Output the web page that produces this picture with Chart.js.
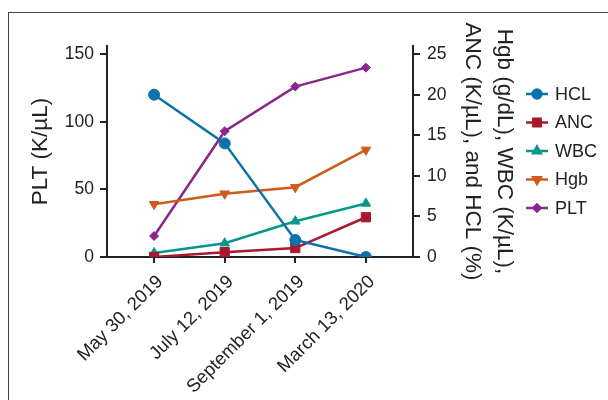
<!DOCTYPE html>
<html>
<head>
<meta charset="utf-8">
<script src="https://cdn.jsdelivr.net/npm/chart.js@4/dist/chart.umd.min.js"></script>
<style>
  body { margin: 0; background: #fff; }
  #wrap { position: relative; width: 608px; height: 400px; overflow: hidden; }
  #frame { position: absolute; left: 8px; top: 12px; width: 700px; height: 500px;
           border-left: 1.5px solid #444; border-top: 1.5px solid #444; }
  #chart { position: absolute; left: 0; top: 0; }
</style>
</head>
<body>
<div id="wrap">
  <div id="frame"></div>
  <canvas id="chart" width="608" height="400"></canvas>
</div>
<script>
// visit dates (x axis)
const dates = ['May 30, 2019', 'July 12, 2019', 'September 1, 2019', 'March 13, 2020'];

// right axis series
const hcl = [20.0, 14.0, 2.1, 0];      // %
const anc = [0, 0.6, 1.1, 4.9];        // K/uL
const wbc = [0.5, 1.7, 4.4, 6.6];      // K/uL
const hgb = [6.5, 7.8, 8.6, 13.2];     // g/dL

// left axis series
const plt = [15.5, 93, 126, 140];      // K/uL

const leftTicks = [0, 50, 100, 150];
const rightTicks = [0, 5, 10, 15, 20, 25];

const ink = '#222';
Chart.defaults.font.family = "'Liberation Sans', Arial, sans-serif";
Chart.defaults.color = ink;

function pts(arr) {
    return arr.map((v, i) => ({ x: i, y: v }));
}

function series(label, data, color, style, radius, axis, rot) {
    return {
        label: label,
        data: pts(data),
        yAxisID: axis,
        borderColor: color,
        backgroundColor: color,
        borderWidth: 2.5,
        pointStyle: style,
        pointRadius: radius,
        pointRotation: rot || 0,
        pointBorderWidth: 1,
        tension: 0
    };
}

// legend drawn as line + marker, like the original
const lineLegend = {
    id: 'lineLegend',
    afterDraw(chart) {
        const ctx = chart.ctx;
        ctx.save();
        chart.data.datasets.forEach((ds, i) => {
            const y = 94 + i * 28.5;
            ctx.strokeStyle = ds.borderColor;
            ctx.lineWidth = 2.5;
            ctx.beginPath();
            ctx.moveTo(526, y);
            ctx.lineTo(548, y);
            ctx.stroke();
            ctx.fillStyle = ds.backgroundColor;
            Chart.helpers.drawPoint(ctx, {
                pointStyle: ds.pointStyle,
                radius: ds.pointRadius * 0.8,
                rotation: ds.pointRotation,
                borderWidth: 1
            }, 537, y);
            ctx.fillStyle = ink;
            ctx.font = "18px 'Liberation Sans', Arial, sans-serif";
            ctx.textAlign = 'left';
            ctx.textBaseline = 'middle';
            ctx.fillText(ds.label, 555, y + 1);
        });
        ctx.restore();
    }
};

const axisLine = { display: true, color: ink, width: 2 };
const tickMarks = { drawOnChartArea: false, drawTicks: true, tickLength: 7, color: ink, lineWidth: 2 };

new Chart(document.getElementById('chart'), {
    type: 'line',
    data: {
        datasets: [
            series('HCL', hcl, '#0b72aa', 'circle', 5.5, 'y2'),
            series('ANC', anc, '#a8182f', 'rect', 6.5, 'y2'),
            series('WBC', wbc, '#05988a', 'triangle', 5.5, 'y2'),
            series('Hgb', hgb, '#cf5b1d', 'triangle', 5.5, 'y2', 180),
            series('PLT', plt, '#8b278b', 'rectRot', 4.5, 'y')
        ]
    },
    options: {
        responsive: false,
        animation: false,
        devicePixelRatio: 1,
        layout: { padding: { left: 0, top: 46, right: 84, bottom: 0 } },
        plugins: {
            legend: { display: false },
            tooltip: { enabled: false }
        },
        scales: {
            x: {
                type: 'linear',
                min: -0.667,
                max: 3.667,
                afterBuildTicks: s => { s.ticks = dates.map((_, i) => ({ value: i })); },
                afterFit: s => { s.height = 143; },
                border: axisLine,
                grid: Object.assign({}, tickMarks, { tickLength: 6 }),
                ticks: {
                    autoSkip: false,
                    minRotation: 45,
                    maxRotation: 45,
                    padding: 8,
                    labelOffset: 6,
                    font: { size: 18.5 },
                    callback: v => dates[v]
                }
            },
            y: {
                position: 'left',
                min: 0,
                max: 156,
                afterBuildTicks: s => { s.ticks = leftTicks.map(v => ({ value: v })); },
                afterFit: s => { s.width = 107; },
                border: axisLine,
                grid: tickMarks,
                ticks: { padding: 6, font: { size: 17.5 } },
                title: {
                    display: true,
                    text: 'PLT (K/\u00b5L)',
                    font: { size: 22.5 },
                    padding: { top: 27, bottom: 0 }
                }
            },
            y2: {
                position: 'right',
                min: 0,
                max: 26,
                afterBuildTicks: s => { s.ticks = rightTicks.map(v => ({ value: v })); },
                afterFit: s => { s.width = 111; },
                border: axisLine,
                grid: tickMarks,
                ticks: { padding: 7, font: { size: 17.5 } },
                title: {
                    display: true,
                    text: ['Hgb (g/dL), WBC (K/\u00b5L),', 'ANC (K/\u00b5L), and HCL (%)'],
                    font: { size: 22.5, lineHeight: 1.42 },
                    padding: { top: 4, bottom: 0 }
                }
            }
        }
    },
    plugins: [lineLegend]
});
</script>
</body>
</html>
